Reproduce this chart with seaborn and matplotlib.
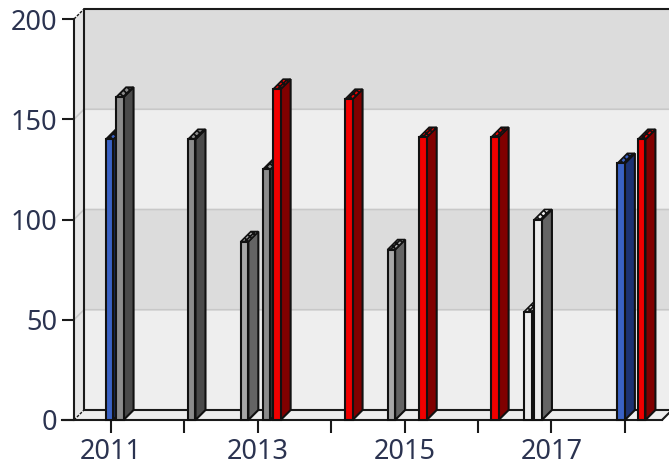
import numpy as np
import pandas as pd
import matplotlib
matplotlib.use('Agg')
import matplotlib.pyplot as plt
from matplotlib.patches import Polygon, Rectangle
import seaborn as sns

# values, x is a position in years
bar_years = [2010.98, 2011.12, 2012.10, 2012.82, 2013.12, 2013.26, 2014.24, 2014.82, 2015.25, 2016.23, 2016.68, 2016.82, 2017.95, 2018.23]
bar_values = [140, 161, 140, 89, 125, 165, 160, 85, 141, 141, 54, 100, 128, 140]
bar_groups = ['blue', 'dark', 'dark', 'mid', 'dark', 'red', 'red', 'mid', 'red', 'red', 'light', 'light', 'blue', 'red']
year_ticks = [2011, 2012, 2013, 2014, 2015, 2016, 2017, 2018]
year_labels = ['2011', '', '2013', '', '2015', '', '2017', '']
value_ticks = [0, 50, 100, 150, 200]

front_colors = {'blue': '#3a62c4', 'dark': '#8c8c8c', 'mid': '#a8a8a8', 'red': '#f00000', 'light': '#ececec'}
side_colors = {'blue': '#1c3272', 'dark': '#4a4a4a', 'mid': '#646464', 'red': '#800000', 'light': '#646464'}

W, H = 669, 468
LEFT, RIGHT, BOTTOM, TOP = 74, 662, 420, 19
DEPTH = 10
BAR_PX = 7.5

sns.set_theme(style='white')
plt.rcParams['font.family'] = ['Noto Sans', 'DejaVu Sans']
plt.rcParams['hatch.linewidth'] = 1.3

fig = plt.figure(figsize=(W / 100, H / 100), dpi=100, facecolor='white')
ax = fig.add_axes([LEFT / W, 1 - BOTTOM / H, (RIGHT - LEFT) / W, (BOTTOM - TOP) / H])

px_per_year = 73.4
xmin = 2011 + (LEFT - 111) / px_per_year
xmax = 2011 + (RIGHT - 111) / px_per_year
dx = DEPTH / px_per_year
dy = DEPTH * 200 / (BOTTOM - TOP)

df = pd.DataFrame({'year': bar_years, 'value': bar_values, 'group': bar_groups})
min_gap = np.min(np.diff(np.unique(bar_years)))
sns.barplot(data=df, x='year', y='value', hue='group', palette=front_colors, native_scale=True,
            dodge=False, width=(BAR_PX / px_per_year) / min_gap, legend=False, ax=ax,
            edgecolor='#111111', linewidth=1.5, saturation=1, clip_on=False)

ax.set_xlim(xmin, xmax)
ax.set_ylim(0, 200)


def poly(points, **kw):
    ax.add_patch(Polygon(points, closed=True, clip_on=False, **kw))


# back wall with its bands, side wall and floor
x_far = xmax + dx
for i, (lo, hi) in enumerate(zip(value_ticks[:-1], value_ticks[1:])):
    color = '#eeeeee' if i % 2 == 0 else '#dcdcdc'
    poly([(xmin + dx, lo + dy), (x_far, lo + dy), (x_far, hi + dy), (xmin + dx, hi + dy)],
         facecolor=color, edgecolor='none', zorder=0.1)
    poly([(xmin, lo), (xmin + dx, lo + dy), (xmin + dx, hi + dy), (xmin, hi)],
         facecolor='#e6e6e6', edgecolor='none', zorder=0.1)
    if lo > 0:
        ax.plot([xmin, xmin + dx, x_far], [lo, lo + dy, lo + dy], color='#c8c8c8', lw=1.2,
                clip_on=False, zorder=0.2)
poly([(xmin, 0), (xmax, 0), (x_far, dy), (xmin + dx, dy)], facecolor='#eeeeee', edgecolor='none', zorder=0.1)

line = dict(color='#1a1a1a', lw=1.5, clip_on=False, zorder=0.3)
ax.plot([xmin + dx, xmin + dx, x_far], [dy, 200 + dy, 200 + dy], **line)
ax.plot([xmin + dx, x_far], [dy, dy], **line)
ax.plot([xmin, xmin + dx], [0, dy], color='#1a1a1a', lw=1, ls=(0, (2, 1)), clip_on=False, zorder=0.3)
ax.plot([xmin, xmin + dx], [200, 200 + dy], color='#1a1a1a', lw=1, ls=(0, (2, 1)), clip_on=False, zorder=0.3)
ax.plot([xmax, x_far], [0, dy], **line)

# depth of the bars, left to right so the nearer faces cover the earlier ones
bars = sorted([p for p in ax.patches if isinstance(p, Rectangle) and p.get_height() > 0], key=lambda p: p.get_x())
for i, (bar, group) in enumerate(zip(bars, df.sort_values('year')['group'])):
    x0, x1 = bar.get_x(), bar.get_x() + bar.get_width()
    top = bar.get_height()
    z = 2 + i * 0.1
    poly([(x1, 0), (x1 + dx, dy), (x1 + dx, top + dy), (x1, top)], facecolor=side_colors[group],
         edgecolor='#111111', linewidth=1.5, zorder=z)
    # top face is dithered in the original
    poly([(x0, top), (x0 + dx, top + dy), (x1 + dx, top + dy), (x1, top)], facecolor=front_colors[group],
         edgecolor='#111111', linewidth=1.2, hatch='xxxxx', zorder=z)
    bar.set_zorder(z + 0.05)

ax.set_xticks(year_ticks, year_labels)
ax.set_yticks(value_ticks, value_ticks)
ax.set_xlabel('')
ax.set_ylabel('')
for s in ['top', 'right']:
    ax.spines[s].set_visible(False)
for s in ['left', 'bottom']:
    ax.spines[s].set_color('#1a1a1a')
    ax.spines[s].set_linewidth(1.5)
    ax.spines[s].set_zorder(1)
ax.spines['bottom'].set_bounds(xmin - 12 / px_per_year, xmax)
ax.tick_params(axis='both', length=9, width=1.5, color='#1a1a1a', direction='out', bottom=True, left=True,
               labelsize=19.5, labelcolor='#2b3350')
ax.tick_params(axis='y', pad=3)
ax.tick_params(axis='x', pad=4)

fig.savefig('out.png', dpi=100)
